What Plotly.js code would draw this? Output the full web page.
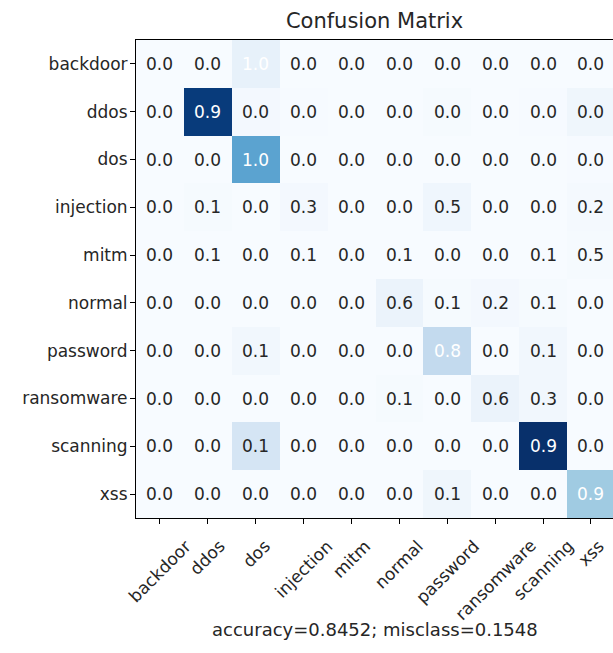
<!DOCTYPE html>
<html>
<head>
<meta charset="utf-8">
<script src="https://cdn.plot.ly/plotly-3.0.1.min.js"></script>
<style>
  html, body { margin: 0; padding: 0; background: #ffffff; }
  #chart { width: 613px; height: 653px; }
</style>
</head>
<body>
<div id="chart"></div>
<script>
// Attack classes (rows = true label, columns = predicted label)
const classes = ["backdoor", "ddos", "dos", "injection", "mitm",
                 "normal", "password", "ransomware", "scanning", "xss"];

// Raw prediction counts per true class (one array per row)
const backdoorRow   = [0,    0,    160,  0,  0, 0,   0,   0,   0,    0];
const ddosRow       = [0,    1920, 40,   10, 0, 0,   20,  0,   10,   85];
const dosRow        = [0,    0,    1100, 0,  0, 0,   0,   0,   0,    10];
const injectionRow  = [0,    16,   0,    45, 0, 0,   75,  0,   0,    28];
const mitmRow       = [0,    4,    0,    5,  1, 4,   1,   0,   5,    20];
const normalRow     = [0,    0,    0,    0,  0, 120, 20,  40,  20,   0];
const passwordRow   = [0,    0,    65,   0,  0, 0,   520, 0,   65,   0];
const ransomwareRow = [0,    0,    0,    0,  0, 20,  0,   120, 60,   0];
const scanningRow   = [0,    0,    340,  0,  0, 0,   0,   0,   2000, 0];
const xssRow        = [0,    0,    0,    0,  0, 0,   80,  0,   0,    740];

const counts = [backdoorRow, ddosRow, dosRow, injectionRow, mitmRow,
                normalRow, passwordRow, ransomwareRow, scanningRow, xssRow];

// matplotlib "Blues" colour map
const blues = [
  [0.000, "#f7fbff"], [0.125, "#deebf7"], [0.250, "#c6dbef"],
  [0.375, "#9ecae1"], [0.500, "#6baed6"], [0.625, "#4292c6"],
  [0.750, "#2171b5"], [0.875, "#08519c"], [1.000, "#08306b"]
];

// Overall accuracy from the diagonal
let total = 0, correct = 0;
counts.forEach((row, i) => row.forEach((v, j) => { total += v; if (i === j) correct += v; }));
const accuracy = correct / total;
const misclass = 1 - accuracy;

// Row-normalised rates shown in each cell
const rates = counts.map(row => {
  const s = row.reduce((a, b) => a + b, 0);
  return row.map(v => v / s);
});
let maxRate = 0;
rates.forEach(r => r.forEach(v => { if (v > maxRate) maxRate = v; }));
const thresh = maxRate / 1.5;

const idx = classes.map((_, i) => i);
let zmax = 0;
counts.forEach(r => r.forEach(v => { if (v > zmax) zmax = v; }));

const trace = {
  type: "heatmap",
  z: counts,
  x: idx,
  y: idx,
  colorscale: blues,
  zmin: 0,
  zmax: zmax,
  showscale: false,
  hoverinfo: "skip"
};

const textColor = "#262626";
const font = { family: "DejaVu Sans", size: 17, color: textColor };

const annotations = [];
// cell values
rates.forEach((row, i) => row.forEach((v, j) => {
  annotations.push({
    x: j, y: i, xref: "x", yref: "y",
    text: v.toFixed(1),
    showarrow: false,
    font: { family: "DejaVu Sans", size: 17, color: v > thresh ? "#ffffff" : textColor }
  });
}));
// rotated column labels, centred under their ticks
classes.forEach((name, j) => {
  annotations.push({
    x: j, y: 0, xref: "x", yref: "paper",
    text: name, textangle: -45,
    xanchor: "center", yanchor: "top", yshift: -15,
    showarrow: false, font: font
  });
});
// summary line under the matrix
annotations.push({
  x: 0.5, y: -0.234, xref: "paper", yref: "paper",
  xanchor: "center", yanchor: "middle",
  text: "accuracy=" + accuracy.toFixed(4) + "; misclass=" + misclass.toFixed(4),
  showarrow: false,
  font: { family: "DejaVu Sans", size: 18, color: textColor }
});

const layout = {
  width: 613,
  height: 653,
  margin: { l: 136, r: 0, t: 40, b: 135 },
  paper_bgcolor: "#ffffff",
  plot_bgcolor: "#f7fbff",
  font: font,
  title: {
    text: "Confusion Matrix",
    font: { family: "DejaVu Sans", size: 21, color: textColor },
    x: 0.5, xref: "paper", xanchor: "center",
    y: 1, yref: "container", yanchor: "top", pad: { t: 13 }
  },
  xaxis: {
    range: [-0.5, 9.46],
    tickvals: idx,
    showticklabels: false,
    ticks: "outside",
    ticklen: 5,
    tickcolor: "#000000",
    showgrid: false,
    zeroline: false,
    showline: true,
    linecolor: "#000000",
    linewidth: 1,
    mirror: true
  },
  yaxis: {
    range: [9.5, -0.5],
    tickvals: idx,
    ticktext: classes,
    ticks: "outside",
    ticklen: 5,
    tickcolor: "#000000",
    tickfont: font,
    ticklabelstandoff: -1,
    showgrid: false,
    zeroline: false,
    showline: true,
    linecolor: "#000000",
    linewidth: 1,
    mirror: false
  },
  annotations: annotations
};

Plotly.newPlot("chart", [trace], layout, { displayModeBar: false, staticPlot: true });
</script>
</body>
</html>
